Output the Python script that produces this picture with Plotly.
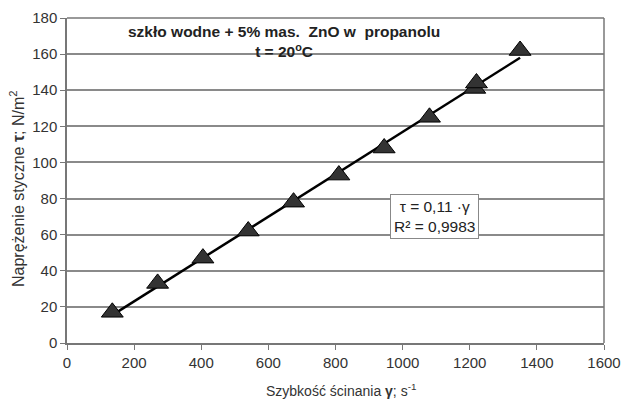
import numpy as np
import plotly.graph_objects as go

shear_rate = [135, 270, 405, 540, 675, 810, 945, 1080, 1215, 1220, 1350]
stress = [17, 33, 47, 62, 78, 93, 108, 125, 141, 144, 162]
x_ticks = [0, 200, 400, 600, 800, 1000, 1200, 1400, 1600]
y_ticks = [0, 20, 40, 60, 80, 100, 120, 140, 160, 180]

xs = np.array(shear_rate, dtype=float)
ys = np.array(stress, dtype=float)
k, b = np.polyfit(xs, ys, 1)
line_x = [xs.min(), xs.max()]
line_y = [k * v + b for v in line_x]

font = "Liberation Sans, Arial, sans-serif"
fig = go.Figure()
fig.add_trace(go.Scatter(x=line_x, y=line_y, mode="lines",
                         line=dict(color="black", width=2.5), showlegend=False))
fig.add_trace(go.Scatter(x=shear_rate, y=stress, mode="markers",
                         marker=dict(symbol="triangle-up", size=19, color="#333333",
                                     line=dict(color="black", width=1)),
                         showlegend=False))

fig.update_layout(
    width=623, height=399,
    margin=dict(l=67, r=19, t=18, b=56),
    paper_bgcolor="white", plot_bgcolor="white",
    font=dict(family=font, size=15, color="#333333"),
    xaxis=dict(range=[0, 1600], tickvals=x_ticks, showgrid=False, automargin=False,
               ticks="outside", ticklen=5, tickcolor="#777777",
               showline=True, linecolor="#777777", linewidth=1.5, mirror=False,
               tickfont=dict(size=15, color="#333333"),
               zeroline=False),
    yaxis=dict(range=[0, 180], tickvals=y_ticks, showgrid=True, automargin=False,
               gridcolor="#8a8a8a", gridwidth=1.5,
               ticks="outside", ticklen=5, tickcolor="#777777",
               showline=True, linecolor="#777777", linewidth=1.5,
               tickfont=dict(size=15, color="#333333"),
               zeroline=False),
    shapes=[
        dict(type="line", xref="paper", yref="paper", x0=1, x1=1, y0=0, y1=1,
             line=dict(color="#777777", width=1.5)),
        dict(type="line", xref="paper", yref="paper", x0=0, x1=1, y0=1, y1=1,
             line=dict(color="#777777", width=1.5)),
    ],
    annotations=[
        dict(text="<b>szkło wodne + 5% mas.  ZnO w  propanolu</b><br><b>t = 20<sup>o</sup>C</b>",
             xref="paper", yref="paper", x=0.405, y=0.99, xanchor="center", yanchor="top",
             showarrow=False, font=dict(size=15.5, color="#222222", family=font)),
        dict(text="τ = 0,11 ·γ<br>R² = 0,9983", x=1096, y=70, showarrow=False,
             xanchor="center", yanchor="middle", bgcolor="white",
             bordercolor="#888888", borderwidth=1, borderpad=3,
             font=dict(size=15.5, color="#222222", family=font)),
        dict(text="Naprężenie styczne <b>τ</b>; N/m<sup>2</sup>", textangle=-90,
             xref="paper", yref="paper", x=-0.093, y=0.474,
             xanchor="center", yanchor="middle", showarrow=False,
             font=dict(size=16, color="#333333", family=font)),
        dict(text="Szybkość ścinania <b>γ</b>; s<sup>-1</sup>",
             xref="paper", yref="paper", x=0.51, y=-0.145,
             xanchor="center", yanchor="middle", showarrow=False,
             font=dict(size=14, color="#333333", family=font)),
    ],
)
fig.write_html("out.html")
